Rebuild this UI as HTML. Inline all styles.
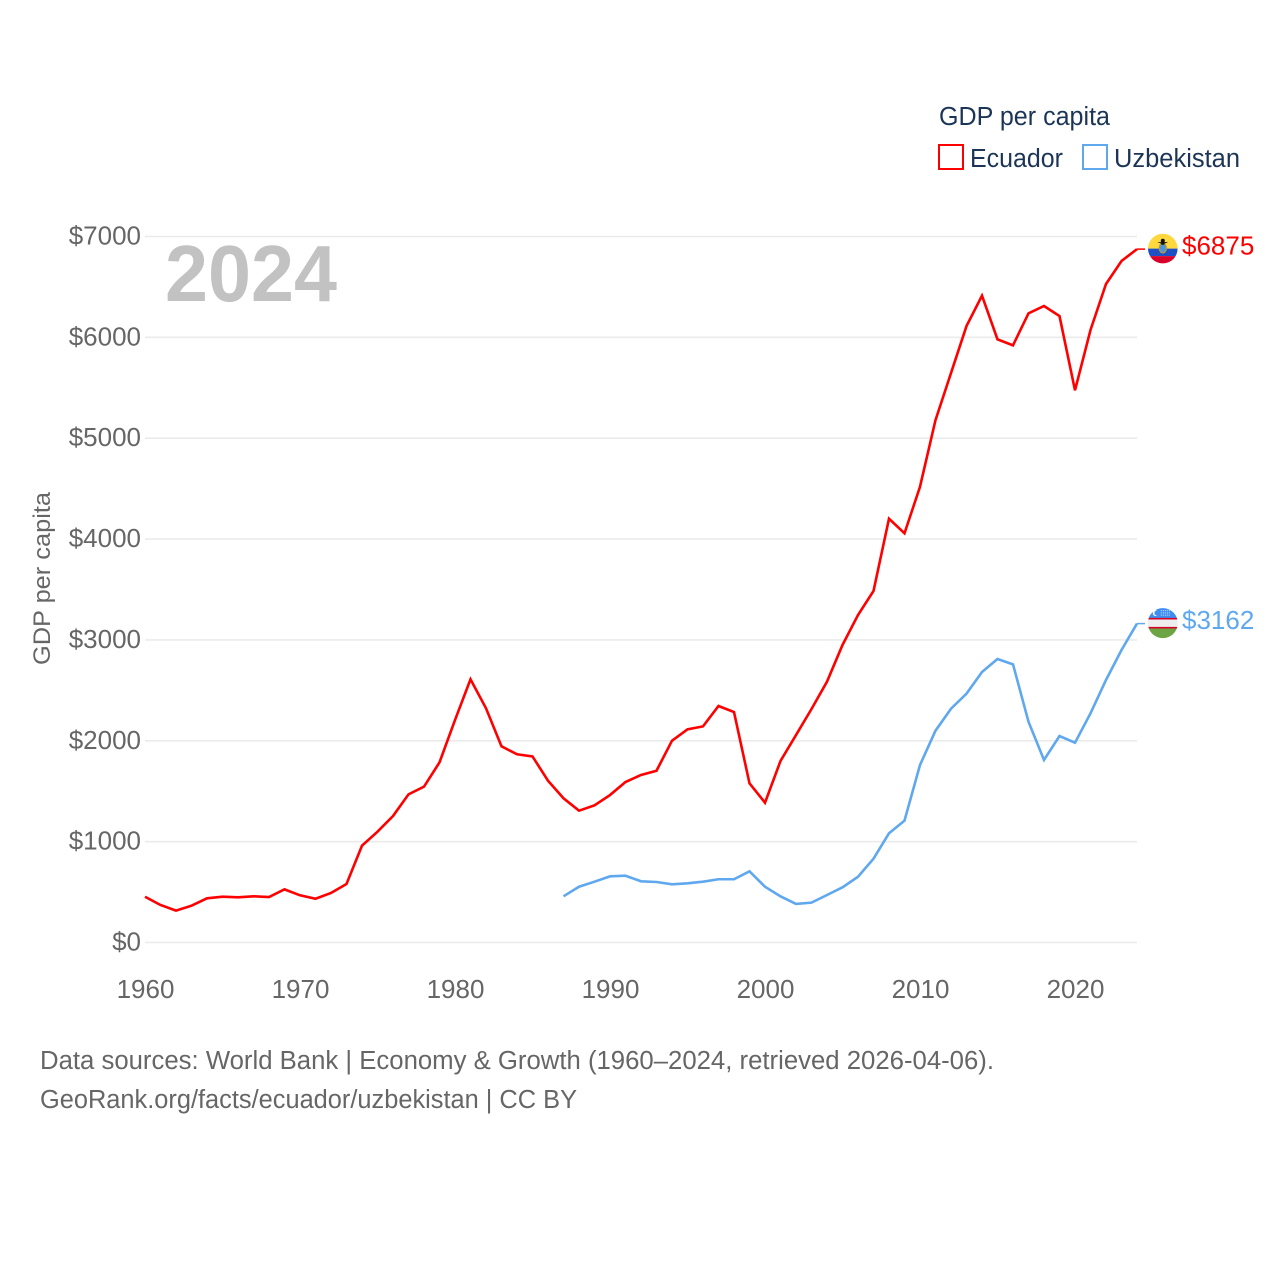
<!DOCTYPE html>
<html lang="en">
<head>
<meta charset="utf-8">
<title>GDP per capita: Ecuador and Uzbekistan</title>
<style>
  html, body { margin: 0; padding: 0; background: #fff; }
  svg { display: block; }
  text { font-family: "Liberation Sans", sans-serif; }
</style>
</head>
<body>
<svg id="chart" xmlns="http://www.w3.org/2000/svg" width="1280" height="1280" viewBox="0 0 1280 1280">
  <rect width="1280" height="1280" fill="#ffffff"/>

  <g id="grid"></g>
  <g id="y-ticks"></g>
  <g id="x-ticks"></g>

  <text x="165" y="301" font-size="80" font-weight="700" fill="#c2c2c2" textLength="172" lengthAdjust="spacingAndGlyphs">2024</text>

  <text transform="translate(50 665) rotate(-90)" font-size="24" fill="#666666" textLength="173" lengthAdjust="spacingAndGlyphs">GDP per capita</text>

  <g id="series"></g>

  <g id="flag-ecuador">
    <clipPath id="clip-ec"><circle cx="0" cy="0" r="14.8"/></clipPath>
    <g clip-path="url(#clip-ec)">
      <rect x="-16" y="-16" width="32" height="16" fill="#ffd83d"/>
      <rect x="-16" y="0" width="32" height="7.5" fill="#1d50c4"/>
      <rect x="-16" y="7.5" width="32" height="9" fill="#d8002a"/>
    </g>
    <ellipse cx="0" cy="-0.5" rx="4.2" ry="5.5" fill="#b99a2e"/>
    <ellipse cx="0" cy="-0.5" rx="2.9" ry="4.2" fill="#4d94e0"/>
    <path d="M-5.5 -6.5 L5.5 -6.5 L1.5 -5 L1.5 -3.8 L-1.5 -3.8 L-1.5 -5 Z" fill="#111111"/>
    <circle cx="0" cy="-7.8" r="2" fill="#111111"/>
  </g>

  <g id="flag-uzbekistan">
    <clipPath id="clip-uz"><circle cx="0" cy="0" r="15"/></clipPath>
    <g clip-path="url(#clip-uz)">
      <rect x="-16" y="-16" width="32" height="11" fill="#3d8df0"/>
      <rect x="-16" y="-5" width="32" height="10.5" fill="#eeeeee"/>
      <rect x="-16" y="-5.2" width="32" height="1.6" fill="#d80027"/>
      <rect x="-16" y="3.8" width="32" height="1.6" fill="#d80027"/>
      <rect x="-16" y="5.4" width="32" height="11" fill="#6da544"/>
    </g>
    <circle cx="-7" cy="-10" r="3" fill="#ffffff"/>
    <circle cx="-5.8" cy="-10" r="2.6" fill="#3d8df0"/>
    <path d="M-2 -12.5h9M-2 -10.2h10M-2 -8h10" stroke="#cfe3fb" stroke-width="1" stroke-dasharray="1 1" fill="none"/>
  </g>

  <text id="label-ecuador" x="1182" font-size="26" fill="#ff0000"></text>
  <text id="label-uzbekistan" x="1182" font-size="26" fill="#60a8ee"></text>

  <g>
    <text x="939" y="125" font-size="25.5" fill="#1c3557" textLength="171" lengthAdjust="spacingAndGlyphs">GDP per capita</text>
    <g>
      <rect x="939" y="145" width="24" height="24" fill="#ffffff" stroke="#ff0000" stroke-width="2"/>
      <text x="970" y="167" font-size="25.5" fill="#1c3557" textLength="93" lengthAdjust="spacingAndGlyphs">Ecuador</text>
    </g>
    <g>
      <rect x="1083" y="145" width="24" height="24" fill="#ffffff" stroke="#60a8ee" stroke-width="2"/>
      <text x="1114" y="167" font-size="25.5" fill="#1c3557" textLength="126" lengthAdjust="spacingAndGlyphs">Uzbekistan</text>
    </g>
  </g>

  <g>
    <text x="40" y="1069" font-size="25.5" fill="#666666" textLength="954" lengthAdjust="spacingAndGlyphs">Data sources: World Bank | Economy &amp; Growth (1960–2024, retrieved 2026-04-06).</text>
    <text x="40" y="1108" font-size="25.5" fill="#666666" textLength="537" lengthAdjust="spacingAndGlyphs">GeoRank.org/facts/ecuador/uzbekistan | CC BY</text>
  </g>
</svg>

<script>
const yTickValues = [0, 1000, 2000, 3000, 4000, 5000, 6000, 7000];
const xTickYears = [1960, 1970, 1980, 1990, 2000, 2010, 2020];

const ecuadorStartYear = 1960;
const ecuadorValues = [
  454, 372, 316, 365, 438, 454, 448, 458, 451, 527,
  468, 434, 491, 580, 960, 1099, 1254, 1469, 1545, 1786,
  2206, 2610, 2322, 1945, 1866, 1845, 1604, 1430, 1307, 1360,
  1462, 1591, 1661, 1703, 2001, 2114, 2143, 2345, 2285, 1578,
  1386, 1800, 2057, 2315, 2586, 2950, 3247, 3485, 4202, 4057,
  4519, 5180, 5646, 6112, 6413, 5980, 5921, 6238, 6311, 6211,
  5475, 6073, 6529, 6757, 6875
];

const uzbekistanStartYear = 1987;
const uzbekistanValues = [
  458, 553, 603, 656, 662, 607, 600, 577, 587, 603,
  627, 627, 706, 553, 458, 382, 395, 471, 547, 652,
  831, 1083, 1208, 1760, 2100, 2318, 2467, 2682, 2811, 2758,
  2189, 1810, 2047, 1981, 2272, 2603, 2900, 3162
];

const svgNS = 'http://www.w3.org/2000/svg';
const xScale = function (year) { return 145 + (year - 1960) * 15.5; };
const yScale = function (value) { return 942.5 - value * (706 / 7000); };
const plotRight = xScale(2024);

const gridGroup = document.getElementById('grid');
const yTickGroup = document.getElementById('y-ticks');
const xTickGroup = document.getElementById('x-ticks');
const seriesGroup = document.getElementById('series');

yTickValues.forEach(function (value) {
  const line = document.createElementNS(svgNS, 'line');
  
  
  line.setAttribute('x1', xScale(1960));
  line.setAttribute('x2', plotRight);
  line.setAttribute('y1', yScale(value));
  line.setAttribute('y2', yScale(value));
  line.setAttribute('stroke', '#ebebeb');
  line.setAttribute('stroke-width', '1.6');
  gridGroup.appendChild(line);

  const label = document.createElementNS(svgNS, 'text');
  
  
  label.setAttribute('x', 141);
  label.setAttribute('y', yScale(value) + 8);
  label.setAttribute('text-anchor', 'end');
  label.setAttribute('font-size', '26');
  label.setAttribute('fill', '#666666');
  label.textContent = '$' + value;
  yTickGroup.appendChild(label);
});

xTickYears.forEach(function (year) {
  const label = document.createElementNS(svgNS, 'text');
  
  
  label.setAttribute('x', xScale(year) + 0.5);
  label.setAttribute('y', 998);
  label.setAttribute('text-anchor', 'middle');
  label.setAttribute('font-size', '26');
  label.setAttribute('fill', '#666666');
  label.textContent = String(year);
  xTickGroup.appendChild(label);
});

function linePoints(startYear, values) {
  return values.map(function (value, i) {
    return xScale(startYear + i).toFixed(2) + ',' + yScale(value).toFixed(2);
  });
}

function drawSeries(name, startYear, values, color) {
  const lastValue = values[values.length - 1];
  const lastY = yScale(lastValue);

  const path = document.createElementNS(svgNS, 'polyline');
  
  
  path.setAttribute('points', linePoints(startYear, values).join(' '));
  path.setAttribute('fill', 'none');
  path.setAttribute('stroke', color);
  path.setAttribute('stroke-width', '2.6');
  path.setAttribute('stroke-linejoin', 'miter');
  seriesGroup.appendChild(path);

  const connector = document.createElementNS(svgNS, 'line');
  
  
  connector.setAttribute('x1', plotRight);
  connector.setAttribute('x2', plotRight + 8);
  connector.setAttribute('y1', lastY);
  connector.setAttribute('y2', lastY);
  connector.setAttribute('stroke', color);
  connector.setAttribute('stroke-width', '1.5');
  seriesGroup.appendChild(connector);

  document.getElementById('flag-' + name).setAttribute('transform', 'translate(1162.8 ' + (lastY - 0.5) + ')');

  const label = document.getElementById('label-' + name);
  label.setAttribute('y', lastY + 5.5);
  label.textContent = '$' + lastValue;
}

drawSeries('ecuador', ecuadorStartYear, ecuadorValues, '#ff0000');
drawSeries('uzbekistan', uzbekistanStartYear, uzbekistanValues, '#60a8ee');
</script>
</body>
</html>
